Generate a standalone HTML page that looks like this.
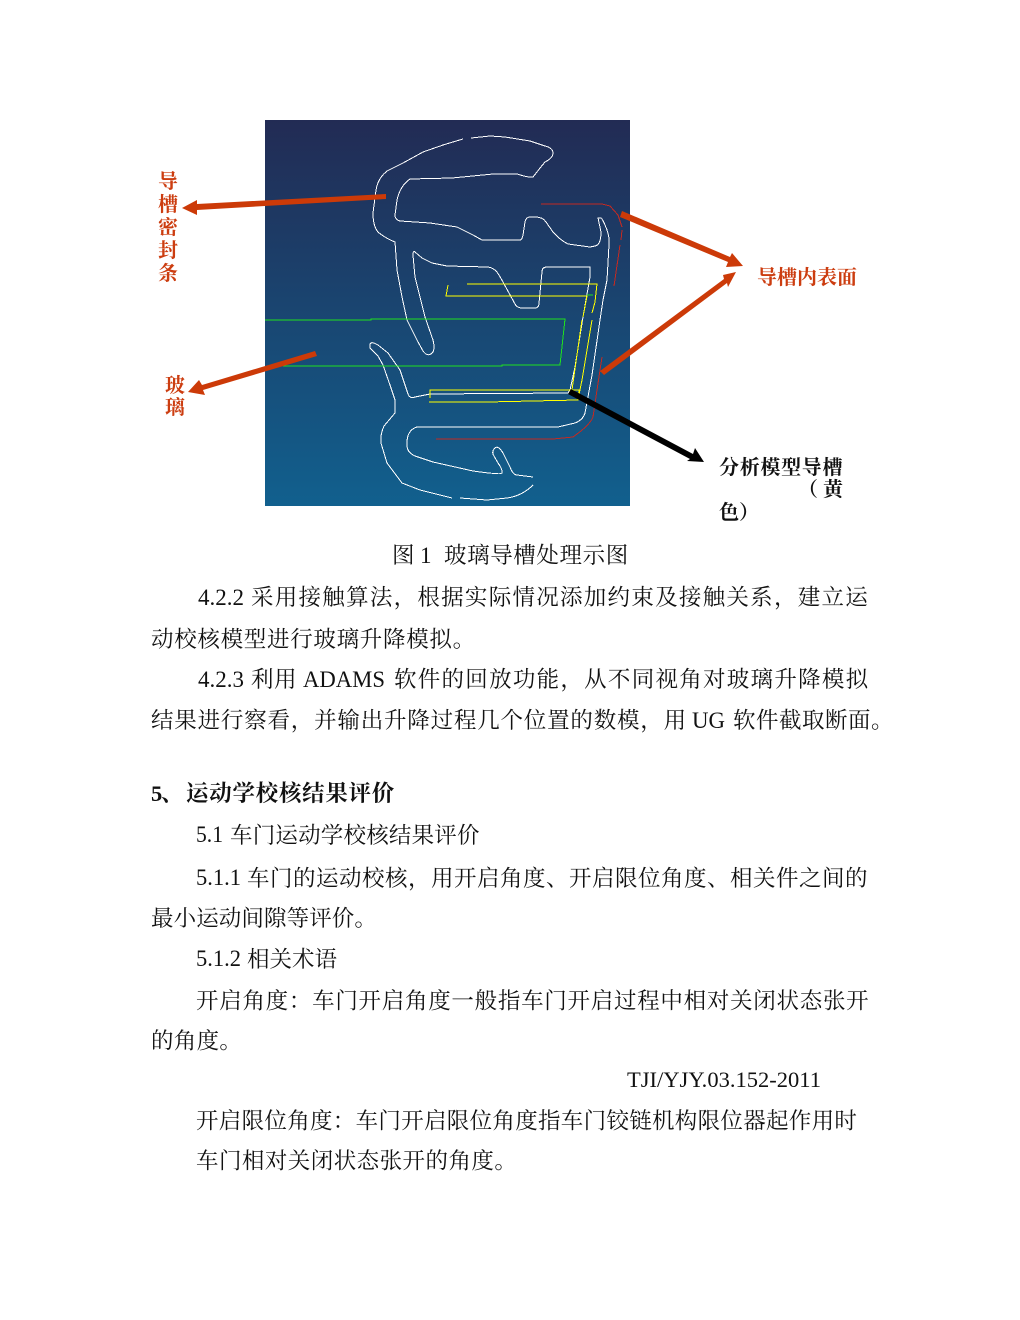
<!DOCTYPE html>
<html><head><meta charset="utf-8"><style>
html,body{margin:0;padding:0;background:#fff;width:1020px;height:1320px;overflow:hidden}
svg{display:block}
text{font-family:"Liberation Serif","Noto Serif CJK SC",serif;fill:#111;font-size:22.5px}
.b{font-weight:700;font-size:20px}
.h{font-weight:700}
.r{fill:#cc3d10}
.lat{font-size:23px}
</style></head><body>
<svg width="1020" height="1320" viewBox="0 0 1020 1320" xmlns="http://www.w3.org/2000/svg">
<defs><linearGradient id="g" x1="0" y1="0" x2="0" y2="1"><stop offset="0" stop-color="#222b54"/><stop offset="1" stop-color="#11608e"/></linearGradient></defs>
<rect x="265" y="120" width="365" height="386" fill="url(#g)"/>
<g fill="none" stroke-linejoin="round" shape-rendering="crispEdges">
<path stroke="#fff" stroke-width="1" d="M463 139L443 145L423 152L403 163L387 171Q378 178 376 190L373 213Q373 226 378 232Q385 238 395 242L397 270L402 297L407 320L417 340L423 351Q428 358 433 352Q435 348 433 340L425 317L415 277L413 255Q413 250 415 252L422 258L432 263L447 266L488 267Q495 268 499 275L503 282L515 304Q517 308 522 308L535 308Q539 308 539 303L542 272Q542 267 547 267L590 267L590 277L583 317L575 367L570 390L568 393L430 394L415 397Q410 399 408 394L400 370L388 353L378 345Q371 341 370 344L370 348L378 356L383 365L390 385L395 400L395 413L384 426Q380 435 381 443L387 463L402 483L420 490L452 498M460 498L487 500L507 498Q522 496 533 485M533 477L517 475Q513 475 510 467L503 453Q498 445 495 448Q491 452 494 456L498 463Q503 470 502 473Q501 475 473 471L433 462L415 456Q406 452 407 443Q407 430 417 427L558 427L575 423Q583 420 585 413L592 375L600 320L603 300L607 280L609 245Q610 236 605 225Q602 218 601 218L598 218L601 232Q601 245 595 246L590 247L568 244Q560 240 553 232L546 222Q543 217 535 217L530 217Q526 217 525 222L523 235Q522 240 520 240L482 240L473 235L457 227L430 223L400 221Q395 220 395 215L397 200Q400 186 410 179L452 178L493 174L517 174Q530 178 533 177Q537 172 540 168L545 162Q553 158 553 153Q553 148 545 146L530 141L505 137L490 136L471 138"/>
<path stroke="#c22a22" stroke-width="1" d="M541 204L602 204L610 206L618 215L622 227M622 230L621 240M620 245L614 286M602 357L597 390L593 417Q590 425 573 437L553 439L436 439"/>
<path stroke="#ff0" stroke-width="1" d="M467 284L597 284L595 302L592 313M592 320L582 380L578 400L487 402L429 402M448 285L446 296L587 296L583 317M582 320L572 390L430 390L430 398M572 390L579 390L578 400"/>
<path stroke="#1fe01f" stroke-width="1" d="M265 320L371 320L371 319L565 319L560 365L502 365L502 366L283 366M587 295L593 295"/>
</g>
<g fill="#cc3a08">
<path d="M386 194L197 204L197 200L182 208L197 215L197 210L386 199Z"/>
<path d="M315 351L202 385L199 380L188 392L205 395L203 390L317 356Z"/>
<path d="M622 211L730 257L732 253L743 266L726 267L728 262L620 217Z"/>
<path d="M600 371L724 279L723 275L736 272L728 287L727 283L604 375Z"/>
</g>
<path fill="#000" d="M571 389L693 454L695 448L704 462L687 461L690 459L568 394Z"/>
<text class="b r" x="158" y="188">导</text>
<text class="b r" x="158" y="211">槽</text>
<text class="b r" x="158" y="234">密</text>
<text class="b r" x="158" y="257">封</text>
<text class="b r" x="158" y="280">条</text>
<text class="b r" x="165" y="392">玻</text>
<text class="b r" x="165" y="414">璃</text>
<text class="b r" x="757" y="284">导槽内表面</text>
<text class="b" x="719" y="474" style="letter-spacing:.7px">分析模型导槽</text>
<text class="b" x="798" y="496">（</text>
<text class="b" x="823" y="496">黄</text>
<text class="b" x="719" y="519">色）</text>

<text x="392" y="563">图</text>
<text class="lat" x="420" y="563">1</text>
<text x="444" y="563" style="letter-spacing:.6px">玻璃导槽处理示图</text>

<text class="lat" x="198" y="605" textLength="46" lengthAdjust="spacingAndGlyphs">4.2.2</text>
<text x="251" y="605" style="letter-spacing:1.27px">采用接触算法，根据实际情况添加约束及接触关系，建立运</text>
<text x="151" y="647" style="letter-spacing:.7px">动校核模型进行玻璃升降模拟。</text>

<text class="lat" x="198" y="687" textLength="46" lengthAdjust="spacingAndGlyphs">4.2.3</text>
<text x="251" y="687" style="letter-spacing:.5px">利用</text>
<text class="lat" x="303" y="687" textLength="82" lengthAdjust="spacingAndGlyphs">ADAMS</text>
<text x="394" y="687" style="letter-spacing:1.27px">软件的回放功能，从不同视角对玻璃升降模拟</text>

<text x="151" y="728" style="letter-spacing:.8px">结果进行察看，并输出升降过程几个位置的数模，用</text>
<text class="lat" x="692" y="728" textLength="33" lengthAdjust="spacingAndGlyphs">UG</text>
<text x="733" y="728" style="letter-spacing:.5px">软件截取断面。</text>

<text class="h" x="151" y="801">5</text>
<text class="h" x="161" y="801">、</text>
<text class="h" x="186" y="801" style="letter-spacing:.72px">运动学校核结果评价</text>

<text class="lat" x="196" y="842" textLength="27" lengthAdjust="spacingAndGlyphs">5.1</text>
<text x="230" y="843" style="letter-spacing:.2px">车门运动学校核结果评价</text>

<text class="lat" x="196" y="885" textLength="45" lengthAdjust="spacingAndGlyphs">5.1.1</text>
<text x="247" y="886" style="letter-spacing:.5px">车门的运动校核，用开启角度、开启限位角度、相关件之间的</text>

<text x="151" y="926" style="letter-spacing:.1px">最小运动间隙等评价。</text>

<text class="lat" x="196" y="966" textLength="45" lengthAdjust="spacingAndGlyphs">5.1.2</text>
<text x="247" y="967">相关术语</text>

<text x="196" y="1008.500" style="letter-spacing:.72px">开启角度：车门开启角度一般指车门开启过程中相对关闭状态张开</text>
<text x="151" y="1048.500" style="letter-spacing:.3px">的角度。</text>
<text x="627" y="1087" textLength="194" lengthAdjust="spacingAndGlyphs">TJI/YJY.03.152-2011</text>
<text x="196" y="1128.500" style="letter-spacing:.3px">开启限位角度：车门开启限位角度指车门铰链机构限位器起作用时</text>
<text x="196" y="1168.500" style="letter-spacing:.45px">车门相对关闭状态张开的角度。</text>
</svg>
</body></html>
